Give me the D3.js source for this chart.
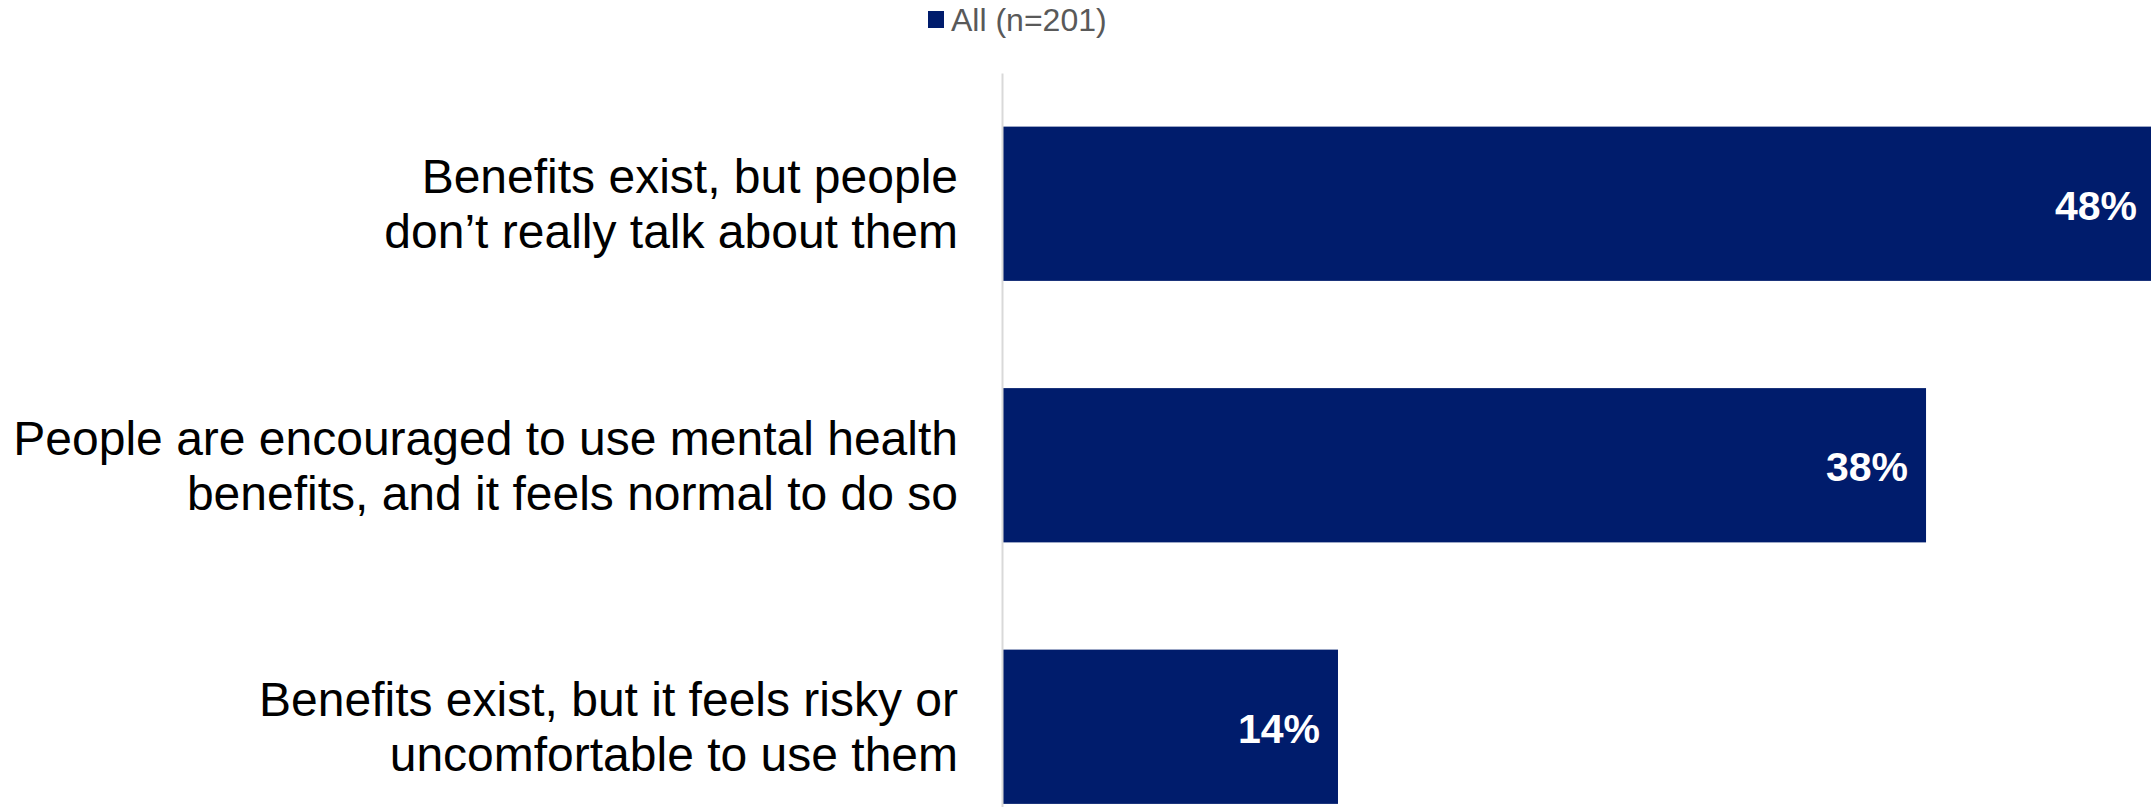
<!DOCTYPE html>
<html>
<head>
<meta charset="utf-8">
<script src="https://cdn.jsdelivr.net/npm/d3@7"></script>
<style>
  html, body { margin: 0; padding: 0; background: #fff; }
  svg { display: block; font-family: "Liberation Sans", Arial, sans-serif; }
</style>
</head>
<body>
<div id="vis"></div>
<script>
  // data
  const categories = [
    ["Benefits exist, but people", "don\u2019t really talk about them"],
    ["People are encouraged to use mental health", "benefits, and it feels normal to do so"],
    ["Benefits exist, but it feels risky or", "uncomfortable to use them"],
  ];
  const values = [47.8, 38.3, 13.9];
  const seriesName = "All (n=201)";

  const options = {
    width: 2151,
    height: 807,
    left: 1003,
    top: 73,
    fill: "#001c6c",
    axisColor: "#d9d9d9",
  };

  const svg = d3
    .select("#vis")
    .append("svg")
    .attr("width", options.width)
    .attr("height", options.height);

  const rows = categories.map((c, i) => ({ label: c, value: values[i], key: i }));

  ////////////// Scales //////////////////
  const x = d3.scaleLinear().domain([0, 50]).range([options.left, options.left + 1205]);

  const y = d3
    .scaleBand()
    .domain(rows.map((d) => d.key))
    .range([options.top, options.top + 784.5])
    .paddingInner(0.41)
    .paddingOuter(0.205);

  ////////////// Bars //////////////////
  svg
    .selectAll(".bar")
    .data(rows)
    .join("rect")
    .attr("class", "bar")
    .attr("x", x(0))
    .attr("y", (d) => y(d.key))
    .attr("width", (d) => x(d.value) - x(0))
    .attr("height", y.bandwidth())
    .attr("fill", options.fill);

  svg
    .selectAll(".value")
    .data(rows)
    .join("text")
    .attr("class", "value")
    .attr("x", (d) => x(d.value) - 18)
    .attr("y", (d) => y(d.key) + y.bandwidth() / 2 + 2)
    .attr("text-anchor", "end")
    .attr("dominant-baseline", "central")
    .attr("fill", "#fff")
    .attr("font-weight", "bold")
    .attr("font-size", 41)
    .text((d) => d3.format(".0f")(d.value) + "%");

  ////////////// Axis //////////////////
  const yAxis = svg
    .append("g")
    .attr("transform", `translate(${options.left - 1},0)`)
    .call(d3.axisLeft(y).tickSize(0).tickSizeOuter(0).tickPadding(44));

  yAxis.select(".domain").attr("stroke", options.axisColor).attr("stroke-width", 2);

  yAxis.selectAll(".tick text").each(function (k) {
    const t = d3.select(this);
    const lines = categories[k];
    t.text(null)
      .attr("font-size", 48)
      .attr("fill", "#000")
      .attr("font-family", "Liberation Sans, Arial, sans-serif")
      .attr("dy", null)
      .attr("dominant-baseline", "central");
    lines.forEach((line, j) => {
      t.append("tspan")
        .attr("x", -44)
        .attr("y", (j - (lines.length - 1) / 2) * 55)
        .text(line);
    });
  });

  ////////////// Legend //////////////////
  const legend = svg.append("g").attr("transform", "translate(928,11)");
  legend.append("rect").attr("width", 16).attr("height", 17).attr("fill", options.fill);
  legend
    .append("text")
    .attr("x", 23)
    .attr("y", 8.5)
    .attr("dominant-baseline", "central")
    .attr("font-size", 32)
    .attr("fill", "#595959")
    .text(seriesName);
</script>
</body>
</html>
